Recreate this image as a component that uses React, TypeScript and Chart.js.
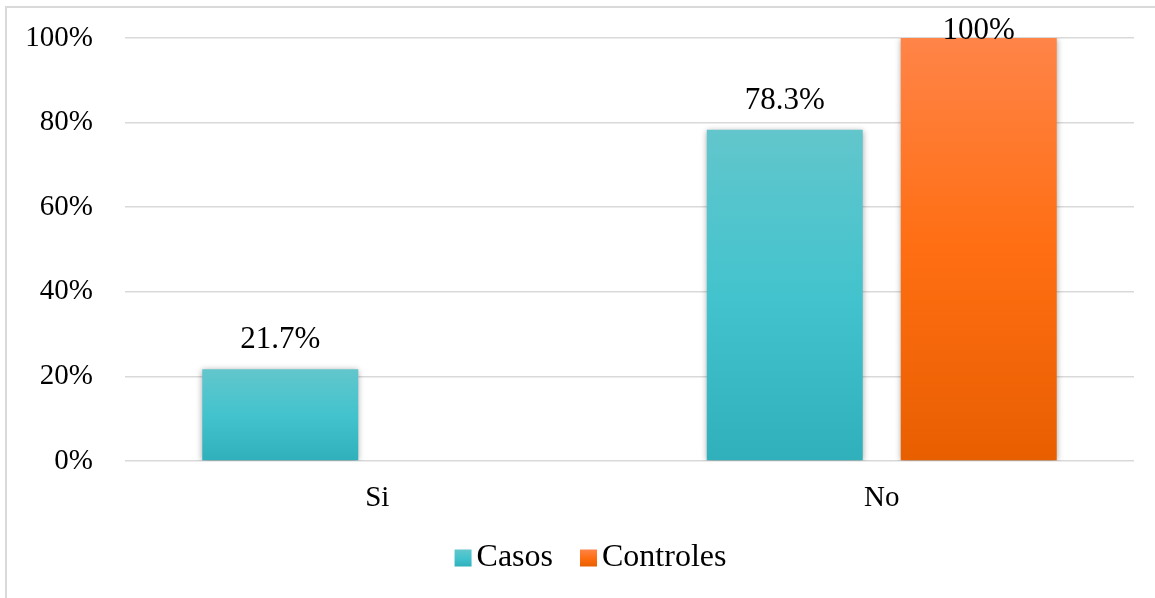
import { useEffect, useRef } from "react";
import { Chart, registerables } from "chart.js";

Chart.register(...registerables);

// Categories and series values (percent)
const categories = ["Si", "No"];
const seriesNames = ["Casos", "Controles"];
const casos: (number | null)[] = [21.7, 78.3];
const controles: (number | null)[] = [null, 100];
const yMin = 0;
const yMax = 100;
const yStep = 20;

const FONT = '"Liberation Serif", "Times New Roman", serif';
const AXIS_FONT_SIZE = 29;
const LABEL_FONT_SIZE = 31;
const LEGEND_FONT_SIZE = 32;

// top / middle / bottom colours of the vertical bar gradients
const casosStops = ["#62c6cc", "#43c3cd", "#30b0ba"];
const controlesStops = ["#ff8448", "#ff6e12", "#e85f00"];

function barGradient(stops: string[]) {
  return (ctx: any) => {
    const chart = ctx.chart;
    if (!chart.chartArea || ctx.type !== "data" || ctx.raw == null) return stops[1];
    const y = chart.scales.y;
    const top = y.getPixelForValue(ctx.raw);
    const bottom = y.getPixelForValue(0);
    const g = chart.ctx.createLinearGradient(0, top, 0, bottom);
    g.addColorStop(0, stops[0]);
    g.addColorStop(0.5, stops[1]);
    g.addColorStop(1, stops[2]);
    return g;
  };
}

const shadowPlugin = {
  id: "barShadow",
  beforeDatasetDraw(chart: any) {
    const c = chart.ctx;
    c.save();
    c.shadowColor = "rgba(0,0,0,0.35)";
    c.shadowBlur = 6;
    c.shadowOffsetX = 0;
    c.shadowOffsetY = 1;
  },
  afterDatasetDraw(chart: any) {
    chart.ctx.restore();
  },
};

const valueLabelPlugin = {
  id: "valueLabels",
  afterDatasetsDraw(chart: any) {
    const c = chart.ctx;
    c.save();
    c.font = `${LABEL_FONT_SIZE}px ${FONT}`;
    c.fillStyle = "#000";
    c.textAlign = "center";
    c.textBaseline = "middle";
    chart.data.datasets.forEach((ds: any, i: number) => {
      const meta = chart.getDatasetMeta(i);
      meta.data.forEach((el: any, j: number) => {
        const v = ds.data[j];
        if (v == null) return;
        const y = Math.max(el.y - 29, chart.chartArea.top - 7);
        c.fillText(`${v}%`, el.x, y);
      });
    });
    c.restore();
  },
};

const legendPlugin = {
  id: "bottomLegend",
  afterDraw(chart: any) {
    const c = chart.ctx;
    c.save();
    c.font = `${LEGEND_FONT_SIZE}px ${FONT}`;
    c.textBaseline = "middle";
    c.textAlign = "left";
    const box = 17;
    const textGap = 5;
    const itemGap = 27;
    const stops = [casosStops, controlesStops];
    const widths = seriesNames.map((n) => c.measureText(n).width);
    const total =
      widths.reduce((a, w) => a + box + textGap + w, 0) + itemGap * (seriesNames.length - 1);
    let x = 590.5 - total / 2;
    const cy = 558;
    seriesNames.forEach((name, i) => {
      const g = c.createLinearGradient(0, cy - box / 2, 0, cy + box / 2);
      g.addColorStop(0, stops[i][0]);
      g.addColorStop(0.5, stops[i][1]);
      g.addColorStop(1, stops[i][2]);
      c.fillStyle = g;
      c.fillRect(x, cy - box / 2, box, box);
      x += box + textGap;
      c.fillStyle = "#000";
      c.fillText(name, x, cy);
      x += widths[i] + itemGap;
    });
    c.restore();
  },
};

export default function App() {
  const canvasRef = useRef<HTMLCanvasElement | null>(null);

  useEffect(() => {
    document.body.style.margin = "0";
    document.body.style.overflow = "hidden";
    const canvas = canvasRef.current;
    if (!canvas) return;
    const chart = new Chart(canvas, {
      type: "bar",
      data: {
        labels: categories,
        datasets: [
          {
            label: seriesNames[0],
            data: casos,
            backgroundColor: barGradient(casosStops),
            borderWidth: 0,
            categoryPercentage: 0.769,
            barPercentage: 0.804,
          },
          {
            label: seriesNames[1],
            data: controles,
            backgroundColor: barGradient(controlesStops),
            borderWidth: 0,
            categoryPercentage: 0.769,
            barPercentage: 0.804,
          },
        ],
      },
      options: {
        animation: false,
        responsive: false,
        maintainAspectRatio: false,
        layout: { padding: { left: 0, right: 21, top: 38, bottom: 0 } },
        plugins: {
          legend: { display: false },
          tooltip: { enabled: false },
        },
        scales: {
          x: {
            grid: { display: false, drawTicks: false },
            border: { display: false },
            ticks: {
              color: "#000",
              padding: 20,
              font: { family: FONT, size: AXIS_FONT_SIZE },
            },
            afterFit: (s: any) => {
              s.height = 137;
            },
          },
          y: {
            min: yMin,
            max: yMax,
            grid: {
              color: "#d9d9d9",
              lineWidth: 1.5,
              drawTicks: true,
              tickLength: 28,
              tickColor: "rgba(0,0,0,0)",
            },
            border: { display: false },
            ticks: {
              stepSize: yStep,
              color: "#000",
              padding: 4,
              font: { family: FONT, size: AXIS_FONT_SIZE },
              callback: (v: any) => `${v}%`,
            },
            afterFit: (s: any) => {
              s.width = 125;
            },
          },
        },
      },
      plugins: [shadowPlugin, valueLabelPlugin, legendPlugin],
    });
    return () => chart.destroy();
  }, []);

  return (
    <div style={{ position: "relative", width: 1155, height: 598, overflow: "hidden", background: "#fff" }}>
      <div
        style={{
          position: "absolute",
          left: 5,
          top: 6,
          width: 1200,
          height: 640,
          border: "2px solid #d9d9d9",
          boxSizing: "border-box",
        }}
      />
      <canvas
        ref={canvasRef}
        width={1155}
        height={598}
        style={{ position: "absolute", left: 0, top: 0, width: 1155, height: 598 }}
      />
    </div>
  );
}
